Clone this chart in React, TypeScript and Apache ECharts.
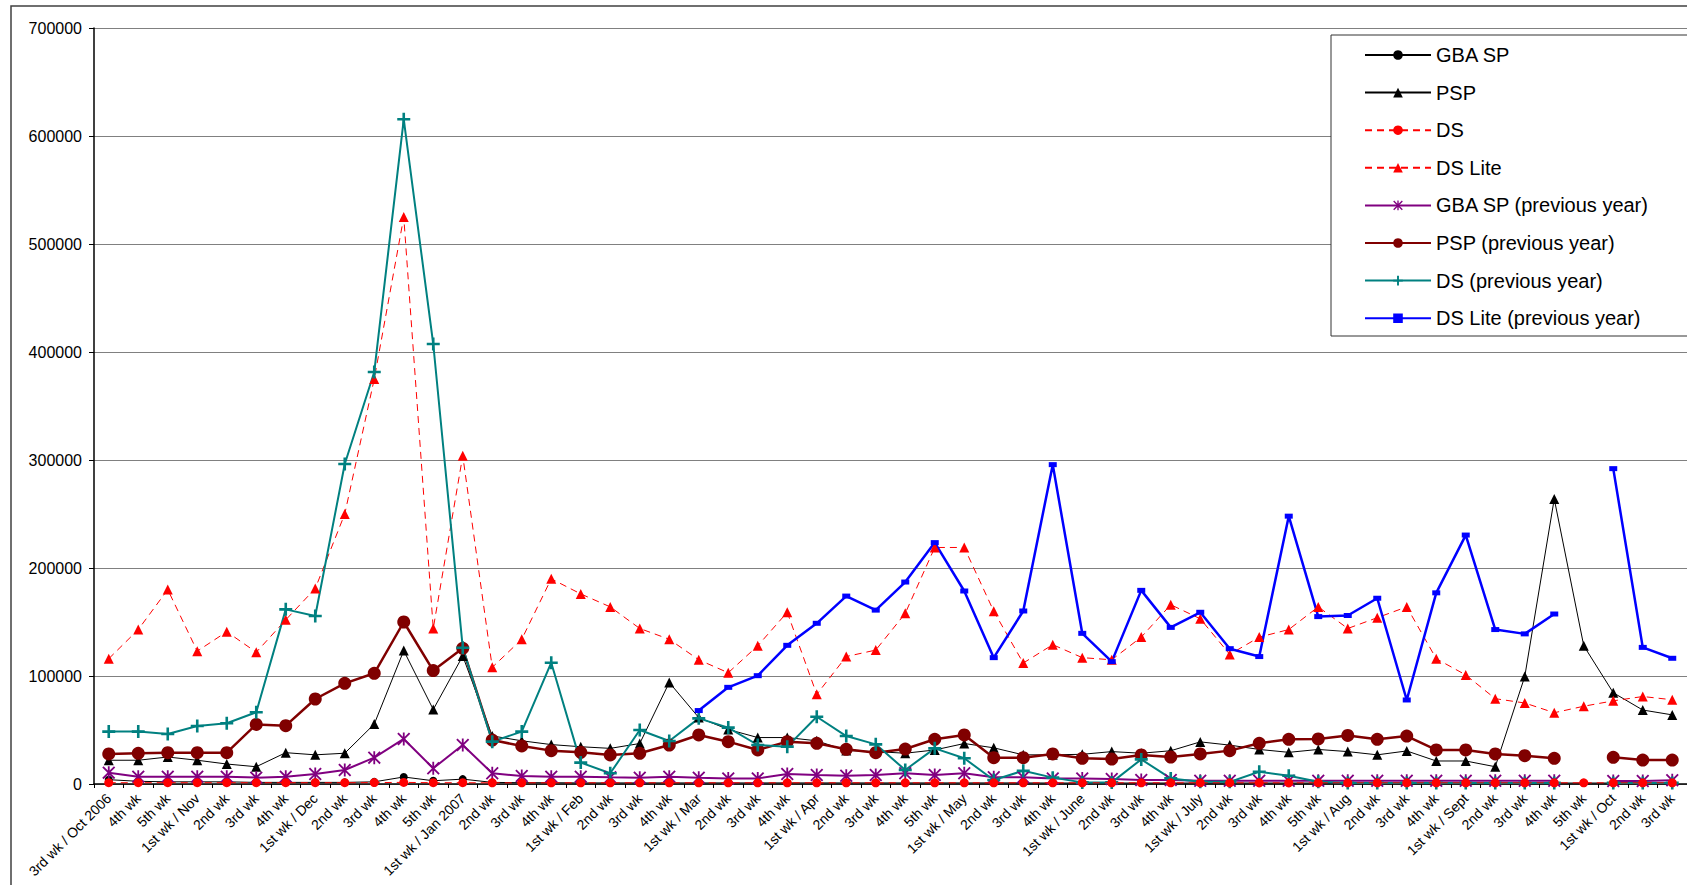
import React, { useEffect, useRef } from "react";
import * as echarts from "echarts";

const categories = [
  "3rd wk / Oct 2006", "4th wk", "5th wk", "1st wk / Nov", "2nd wk", "3rd wk", "4th wk",
  "1st wk / Dec", "2nd wk", "3rd wk", "4th wk", "5th wk", "1st wk / Jan 2007", "2nd wk",
  "3rd wk", "4th wk", "1st wk / Feb", "2nd wk", "3rd wk", "4th wk", "1st wk / Mar", "2nd wk",
  "3rd wk", "4th wk", "1st wk / Apr", "2nd wk", "3rd wk", "4th wk", "5th wk", "1st wk / May",
  "2nd wk", "3rd wk", "4th wk", "1st wk / June", "2nd wk", "3rd wk", "4th wk", "1st wk / July",
  "2nd wk", "3rd wk", "4th wk", "5th wk", "1st wk / Aug", "2nd wk", "3rd wk", "4th wk",
  "1st wk / Sept", "2nd wk", "3rd wk", "4th wk", "5th wk", "1st wk / Oct", "2nd wk", "3rd wk",
];

const gbaSp = [
  4000, 2500, 2000, 2000, 2000, 1500, 1500, 1500, 1500, 2000, 6500, 3000, 4500, 1500,
  1200, 1200, 1000, 1000, 1000, 1000, 1000, 1000, 1000, 1000, 1000, 1000, 1000, 1000,
  1000, 1000, 1000, 1000, 900, 900, 900, 900, 900, 900, 900, 900, 900, 900, 900, 900,
  900, 900, 900, 900, 900, 900, 900, 900, 900, 900,
];

const psp = [
  22000, 22000, 25000, 22000, 18500, 16000, 29000, 27000, 28500, 55500, 123500, 69000,
  118500, 44500, 40000, 36500, 34500, 33000, 37500, 94000, 61500, 50500, 43000, 43000,
  40000, 31000, 30000, 28500, 31500, 37500, 33500, 27000, 27000, 27500, 30000, 28500,
  30800, 39000, 36000, 32000, 29300, 32000, 30000, 27000, 30600, 21300, 21300, 16000,
  99500, 264000, 128000, 84500, 68500, 64000,
];

const ds = [
  1200, 1200, 1200, 1200, 1200, 1200, 1200, 1200, 1200, 1300, 1500, 1200, 1200, 1100,
  1100, 1100, 1100, 1100, 1100, 1100, 1100, 1100, 1100, 1100, 1100, 1100, 1100, 1100,
  1100, 1100, 1100, 1100, 1100, 1100, 1100, 1100, 1100, 1100, 1100, 1100, 1100, 1100,
  1100, 1100, 1100, 1100, 1100, 1100, 1100, 1100, 1100, 1100, 1100, 1100,
];

const dsLite = [
  116000, 143000, 180000, 123000, 141000, 122000, 152000, 181000, 250000, 375000, 525000,
  144000, 304000, 108000, 134000, 190000, 176000, 164000, 144000, 134000, 115000, 103000,
  128000, 159000, 83000, 118000, 124000, 158000, 219000, 219000, 160000, 112000, 129000,
  117000, 115000, 136000, 166000, 153000, 120000, 136000, 143000, 164000, 144000, 154000,
  164000, 116000, 101000, 79000, 75000, 66000, 72000, 77000, 81000, 78000,
];

const gbaSpPrev = [
  10500, 6800, 6800, 6800, 6800, 5900, 6800, 9300, 13000, 24400, 41700, 14500, 36100, 9900,
  7400, 6800, 6800, 6200, 5900, 6800, 5900, 5200, 5200, 9300, 8300, 7700, 8300, 9900, 8300,
  9900, 6200, 6200, 5200, 5200, 4600, 3700, 3700, 3000, 3000, 3000, 3000, 3000, 3000, 3000,
  3000, 3000, 3000, 3000, 3000, 3000, null, 2800, 2800, 3500,
];

const pspPrev = [
  27800, 28400, 29000, 29000, 29000, 55200, 54000, 78700, 93200, 102500, 150000, 105000,
  125600, 40700, 35200, 30900, 29300, 26900, 28400, 36100, 45400, 39200, 31500, 39200,
  37700, 32100, 29000, 32400, 41400, 45400, 24400, 24400, 27800, 23800, 23100, 26900, 25000,
  27800, 30900, 37700, 41400, 41700, 45000, 41400, 44400, 31500, 31500, 27800, 26200, 23800,
  null, 24700, 22200, 22200,
];

const dsPrev = [
  48500, 48500, 46300, 53700, 56200, 66400, 161700, 155600, 296300, 381500, 615500, 407400,
  126200, 39200, 48500, 112300, 19800, 9900, 50000, 39800, 60800, 52200, 36100, 34600, 62300,
  44400, 36700, 13000, 33000, 23800, 3700, 12300, 5900, 1500, 1500, 22800, 5200, 2000, 2000,
  11400, 7700, 2000, 1000, 1000, 1000, 1000, 1000, 1000, 1000, 1000, null, 1000, 1000, 1000,
];

const dsLitePrev = [
  null, null, null, null, null, null, null, null, null, null, null, null, null, null, null,
  null, null, null, null, null, 68000, 89500, 100300, 128400, 148800, 174000, 161000, 187000,
  223500, 178700, 117000, 160200, 295700, 139500, 113300, 179300, 145000, 159000, 125300,
  118000, 248000, 155000, 156000, 172000, 77800, 177000, 230500, 143000, 139000, 157400, null,
  292000, 126500, 116400,
];

const yMin = 0;
const yMax = 700000;
const yStep = 100000;

const PLUS = "path://M4,0 L6,0 L6,4 L10,4 L10,6 L6,6 L6,10 L4,10 L4,6 L0,6 L0,4 L4,4 Z";
const ASTER =
  "path://M4.3,0 L5.7,0 L5.7,10 L4.3,10 Z M1,0 L10,9 L9,10 L0,1 Z M9,0 L10,1 L1,10 L0,9 Z";

const FONT = "'Liberation Sans', Arial, sans-serif";

export default function App() {
  const ref = useRef<HTMLDivElement>(null);

  useEffect(() => {
    if (!ref.current) return;
    const chart = echarts.init(ref.current, undefined, { renderer: "svg" });

    const mk = (
      name: string,
      data: (number | null)[],
      color: string,
      width: number,
      symbol: string,
      size: number | number[],
      dashed = false,
      z = 2
    ) => ({
      name,
      type: "line",
      data,
      z,
      connectNulls: false,
      symbol,
      symbolSize: size,
      showAllSymbol: true,
      itemStyle: { color, borderWidth: 0 },
      lineStyle: { color, width, type: dashed ? [7, 5] : "solid" },
      emphasis: { disabled: true },
    });

    chart.setOption({
      animation: false,
      backgroundColor: "#ffffff",
      grid: { left: 94, top: 28, right: -11, bottom: 101, containLabel: false },
      graphic: [
        {
          type: "rect",
          z: 0,
          shape: { x: 11, y: 6, width: 2000, height: 2000 },
          style: { fill: "none", stroke: "#404040", lineWidth: 1.5 },
        },
        {
          type: "rect",
          z: 3,
          shape: { x: 1331, y: 35, width: 400, height: 301 },
          style: { fill: "#ffffff", stroke: "#333333", lineWidth: 1 },
        },
      ],
      legend: {
        orient: "vertical",
        left: 1364,
        top: 44,
        padding: 0,
        itemWidth: 66,
        itemHeight: 12,
        itemGap: 15.6,
        z: 5,
        selectedMode: false,
        textStyle: { fontSize: 20, fontFamily: FONT, color: "#000", lineHeight: 22 },
        data: [
          "GBA SP",
          "PSP",
          "DS",
          "DS Lite",
          "GBA SP (previous year)",
          "PSP (previous year)",
          "DS (previous year)",
          "DS Lite (previous year)",
        ],
      },
      xAxis: {
        type: "category",
        data: categories,
        boundaryGap: true,
        axisLine: { lineStyle: { color: "#000", width: 1.5 } },
        axisTick: { show: true, interval: 0, length: 4, lineStyle: { color: "#000" } },
        axisLabel: {
          interval: 0,
          rotate: 45,
          margin: 12,
          fontSize: 14,
          fontFamily: FONT,
          color: "#000",
        },
        splitLine: { show: false },
      },
      yAxis: {
        type: "value",
        min: yMin,
        max: yMax,
        interval: yStep,
        axisLine: { show: true, lineStyle: { color: "#000", width: 1.5 } },
        axisTick: { show: true, length: 5, lineStyle: { color: "#000" } },
        axisLabel: {
          margin: 12,
          fontSize: 16,
          fontFamily: FONT,
          color: "#000",
          formatter: (v: number) => String(v),
        },
        splitLine: { show: true, lineStyle: { color: "#808080", width: 1 } },
      },
      series: [
        mk("GBA SP", gbaSp, "#000000", 1, "circle", 8),
        mk("PSP", psp, "#000000", 1, "triangle", 10),
        mk("DS", ds, "#ff0000", 1, "circle", 9, true, 4),
        mk("DS Lite", dsLite, "#ff0000", 1, "triangle", 10, true),
        mk("GBA SP (previous year)", gbaSpPrev, "#800080", 2, ASTER, 13),
        mk("PSP (previous year)", pspPrev, "#800000", 2.5, "circle", 13),
        mk("DS (previous year)", dsPrev, "#008080", 2, PLUS, 13),
        mk("DS Lite (previous year)", dsLitePrev, "#0000ff", 2.5, "rect", [8, 5]),
      ],
    });

    return () => chart.dispose();
  }, []);

  return (
    <div
      ref={ref}
      style={{ position: "fixed", left: 0, top: 0, width: 1687, height: 885, background: "#fff" }}
    />
  );
}
